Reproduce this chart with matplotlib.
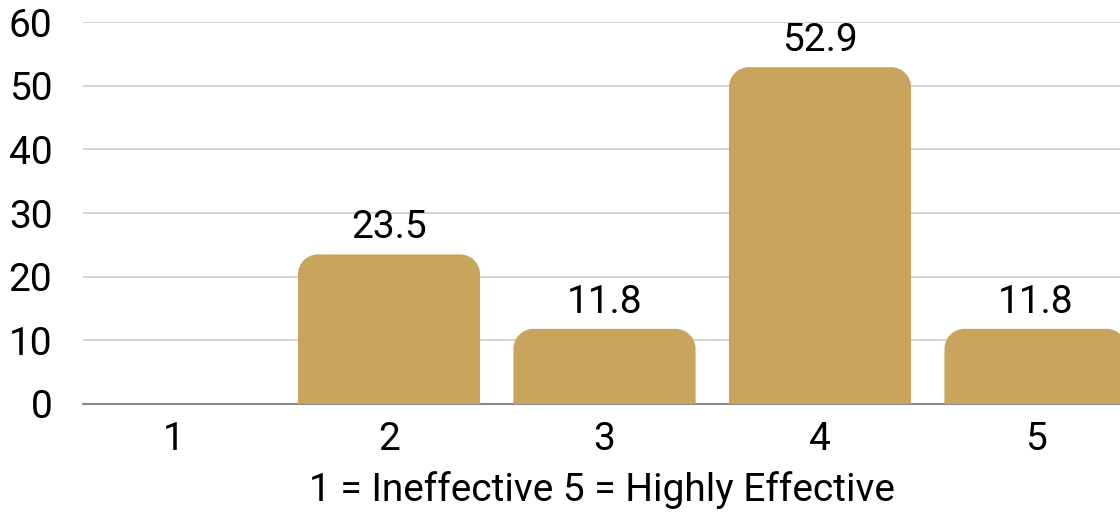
import matplotlib
matplotlib.use("Agg")
import matplotlib.pyplot as plt
from matplotlib.path import Path
from matplotlib.patches import PathPatch

plt.rcParams['font.family'] = ['Roboto', 'DejaVu Sans']

categories = ["1", "2", "3", "4", "5"]
values = [0.0, 23.5, 11.8, 52.9, 11.8]
value_labels = ["", "23.5", "11.8", "52.9", "11.8"]
y_ticks = [0, 10, 20, 30, 40, 50, 60]
x_title = "1 = Ineffective 5 = Highly Effective"

BAR_COLOR = "#C8A45D"
GRID_COLOR = "#CCCCCC"
AXIS_COLOR = "#8A8A8A"
FS = 28

fig = plt.figure(figsize=(11.2, 5.17), dpi=100)
W, H = 1120, 517
ax = fig.add_axes([83 / W, 113 / H, (1120 - 83) / W, (404 - 22) / H])

x = list(range(len(categories)))
bars = ax.bar(x, values, width=0.845, color="none", edgecolor="none")
ax.set_xlim(-0.42, 4.392)
ax.set_ylim(0, 60)
ax.set_yticks(y_ticks)
ax.set_yticklabels([str(t) for t in y_ticks])
ax.set_xticks(x)
ax.set_xticklabels(categories)
ax.tick_params(axis="both", length=0, labelsize=FS, colors="black")
ax.tick_params(axis="y", pad=22)
ax.tick_params(axis="x", pad=12)
ax.set_xlabel(x_title, fontsize=FS, labelpad=10)

ax.grid(axis="y", color=GRID_COLOR, linewidth=1.2)
ax.set_axisbelow(True)
for s in ["top", "right", "left"]:
    ax.spines[s].set_visible(False)
ax.spines["bottom"].set_color(AXIS_COLOR)
ax.spines["bottom"].set_linewidth(1.5)
ax.spines["bottom"].set_zorder(1)

fig.canvas.draw()

# Bars with rounded top corners, built in pixel space
radius = 20
clip_box = ax.bbox
for rect, v, lab in zip(bars, values, value_labels):
    if v <= 0:
        continue
    x0, y0 = rect.get_x(), 0
    x1, y1 = x0 + rect.get_width(), v
    (px0, py0) = ax.transData.transform((x0, y0))
    (px1, py1) = ax.transData.transform((x1, y1))
    r = min(radius, (py1 - py0), (px1 - px0) / 2)
    k = 0.5523 * r
    verts = [
        (px0, py0),
        (px0, py1 - r),
        (px0, py1 - r + k), (px0 + r - k, py1), (px0 + r, py1),
        (px1 - r, py1),
        (px1 - r + k, py1), (px1, py1 - r + k), (px1, py1 - r),
        (px1, py0),
        (px0, py0),
    ]
    codes = [Path.MOVETO, Path.LINETO,
             Path.CURVE4, Path.CURVE4, Path.CURVE4,
             Path.LINETO,
             Path.CURVE4, Path.CURVE4, Path.CURVE4,
             Path.LINETO, Path.CLOSEPOLY]
    patch = PathPatch(Path(verts, codes), facecolor=BAR_COLOR, edgecolor="none",
                      transform=None, zorder=2)
    patch.set_clip_box(clip_box)
    fig.add_artist(patch)
    ax.annotate(lab, (rect.get_x() + rect.get_width() / 2, v),
                xytext=(0, 8), textcoords="offset pixels",
                ha="center", va="bottom", fontsize=FS, color="black")

fig.savefig("out.png", dpi=100)
